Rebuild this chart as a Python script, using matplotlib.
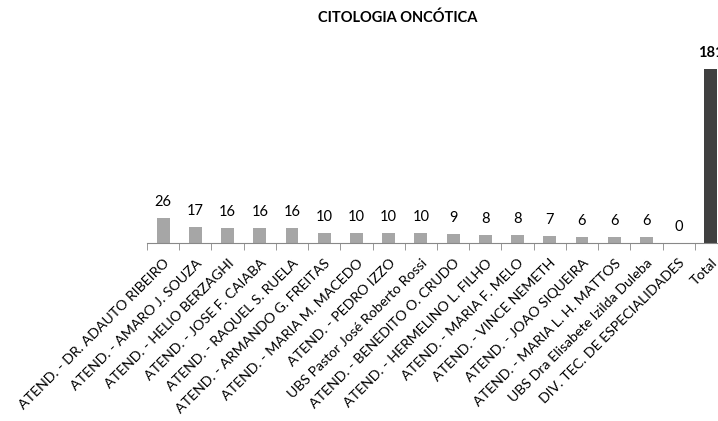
import matplotlib
matplotlib.use("Agg")
import matplotlib.pyplot as plt

plt.rcParams['font.family'] = ['Lato', 'DejaVu Sans']

categories = [
    "ATEND. - DR. ADAUTO RIBEIRO",
    "ATEND. - AMARO J. SOUZA",
    "ATEND. - HELIO BERZAGHI",
    "ATEND. - JOSE F. CAIABA",
    "ATEND. - RAQUEL S. RUELA",
    "ATEND. - ARMANDO G. FREITAS",
    "ATEND. - MARIA M. MACEDO",
    "ATEND. - PEDRO IZZO",
    "UBS Pastor José Roberto Rossi",
    "ATEND. - BENEDITO O. CRUDO",
    "ATEND. - HERMELINO L. FILHO",
    "ATEND. - MARIA F. MELO",
    "ATEND. - VINCE NEMETH",
    "ATEND. - JOAO SIQUEIRA",
    "ATEND. - MARIA L. H. MATTOS",
    "UBS Dra Elisabete Izilda Duleba",
    "DIV. TEC. DE ESPECIALIDADES",
    "Total",
]
values = [26, 17, 16, 16, 16, 10, 10, 10, 10, 9, 8, 8, 7, 6, 6, 6, 0, 181]
title = "CITOLOGIA ONCÓTICA"

W, H = 718, 421
fig = plt.figure(figsize=(W / 100, H / 100), dpi=100)
x0, x1 = 147, 727
ybase, ytop = 243, 51
ax = fig.add_axes([x0 / W, (H - ybase) / H, (x1 - x0) / W, (ybase - ytop) / H])

n = len(values)
xs = list(range(n))
colors = ['#A6A6A6'] * (n - 1) + ['#404040']
ax.bar(xs, values, width=0.4, color=colors, zorder=2)
ax.set_xlim(-0.5, n - 0.5)
ax.set_ylim(0, 200)

for i, v in enumerate(values):
    bold = (i == n - 1)
    ax.annotate(str(v), (i, v), xytext=(0, 11.5), textcoords='offset points',
                ha='center', va='center', fontsize=10.5,
                fontweight='bold' if bold else 'normal', color='black',
                annotation_clip=False)

for s in ['top', 'right', 'left']:
    ax.spines[s].set_visible(False)
ax.spines['bottom'].set_color('#888888')
ax.set_yticks([])
ax.set_xticks([i - 0.5 for i in range(n + 1)], minor=True)
ax.tick_params(axis='x', which='minor', length=5, color='#888888')
ax.set_xticks(xs)
ax.set_xticklabels(categories, rotation=45, ha='right', rotation_mode='anchor',
                   fontsize=10.2)
ax.tick_params(axis='x', which='major', length=0, pad=10)

fig.text(398 / W, 1 - 18 / H, title, ha='center', va='center',
         fontsize=10.5, fontweight='bold')

fig.savefig('out.png', dpi=100)
